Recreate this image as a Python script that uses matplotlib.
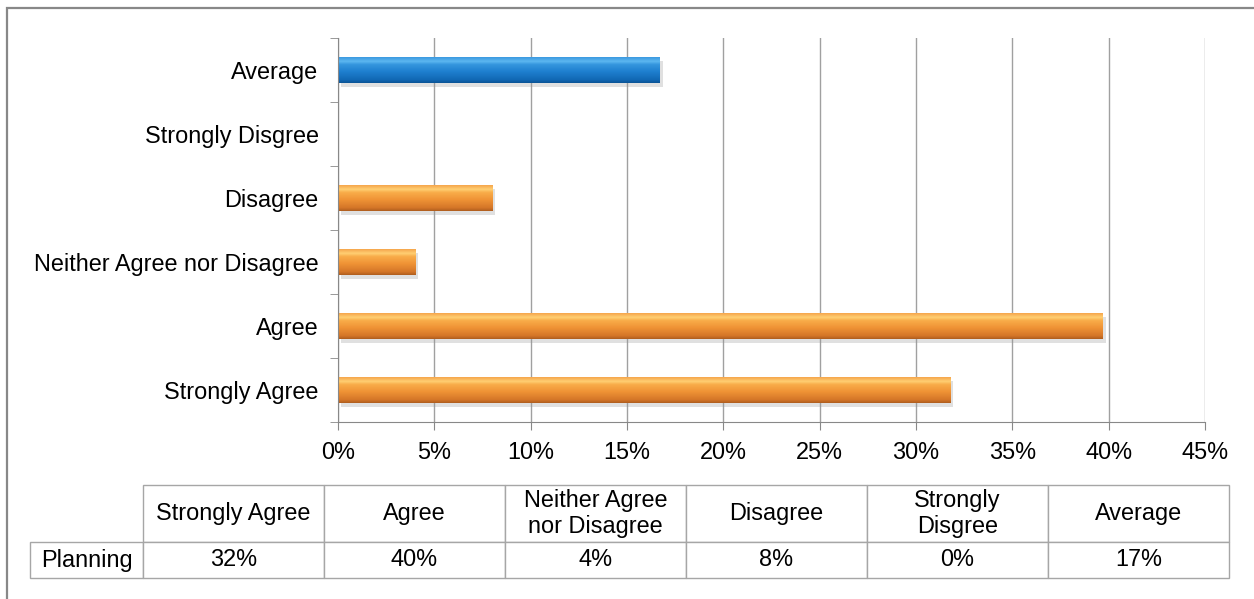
import matplotlib
matplotlib.use('Agg')
import matplotlib.pyplot as plt
import numpy as np
from matplotlib.colors import LinearSegmentedColormap
from matplotlib.patches import Rectangle
from matplotlib.table import Table
from matplotlib.ticker import PercentFormatter, FixedLocator
import matplotlib.patheffects as pe

plt.rcParams['font.family'] = ['Liberation Sans', 'DejaVu Sans']

# Dane (od dołu do góry)
categories = ['Strongly Agree', 'Agree', 'Neither Agree nor Disagree',
              'Disagree', 'Strongly Disgree', 'Average']
values = [31.8, 39.7, 4.0, 8.0, 0.0, 16.7]
table_headers = ['Strongly Agree', 'Agree', 'Neither Agree\nnor Disagree',
                 'Disagree', 'Strongly\nDisgree', 'Average']
row_label = 'Planning'

FS = 16.9
orange_cmap = LinearSegmentedColormap.from_list(
    'orange', [(0.0, '#b05e1e'), (0.12, '#d57628'), (0.45, '#f09436'),
               (0.72, '#f9ad4a'), (0.84, '#ffcf72'), (1.0, '#f6a64d')])
blue_cmap = LinearSegmentedColormap.from_list(
    'blue', [(0.0, '#0b5496'), (0.12, '#1168b4'), (0.45, '#1f80d0'),
             (0.72, '#3596de'), (0.84, '#5cb6f0'), (1.0, '#3c9ae0')])

fig = plt.figure(figsize=(12.54, 5.99), dpi=100)
ax = fig.add_axes([338 / 1254, 1 - 422 / 599, 867 / 1254, 384 / 599])

y = np.arange(len(categories))
bars = ax.barh(y, values, height=0.4, color='#f09436', zorder=1.5,
               path_effects=[pe.SimplePatchShadow(offset=(2, -3), shadow_rgbFace='#999999', alpha=0.3),
                             pe.Normal()])

# Gradient w słupkach
grad = np.linspace(0, 1, 64).reshape(-1, 1)
for cat, bar in zip(categories, bars):
    if bar.get_width() <= 0:
        continue
    cmap = blue_cmap if cat == 'Average' else orange_cmap
    x0, y0 = bar.get_x(), bar.get_y()
    im = ax.imshow(grad, extent=[x0, x0 + bar.get_width(), y0, y0 + bar.get_height()],
                   origin='lower', aspect='auto', cmap=cmap, zorder=2)
    im.set_clip_path(bar)

ax.set_xlim(0, 45)
ax.set_ylim(-0.5, len(categories) - 0.5)
ax.set_xticks(np.arange(0, 46, 5))
ax.xaxis.set_major_formatter(PercentFormatter(xmax=100, decimals=0))
ax.set_yticks(y)
ax.set_yticklabels(categories)
ax.yaxis.set_minor_locator(FixedLocator(np.arange(-0.5, len(categories), 1)))
ax.tick_params(axis='y', which='major', length=0, pad=14, labelsize=FS)
ax.tick_params(axis='y', which='minor', length=6, color='#888888', direction='out')
ax.tick_params(axis='x', length=6, color='#888888', labelsize=FS, pad=8)

ax.set_axisbelow(True)
ax.grid(axis='x', color='#a0a0a0', linewidth=1)
for s in ['top', 'right']:
    ax.spines[s].set_visible(False)
for s in ['left', 'bottom']:
    ax.spines[s].set_color('#888888')

# Tabela danych
label_w, col_w = 113, 181
head_h, row_h = 57, 36
tb = Table(ax, bbox=[(30 - 338) / 867, (422 - 578) / 384,
                     (1229 - 30) / 867, (578 - 485) / 384])
for j, (hdr, v) in enumerate(zip(table_headers, values)):
    c = tb.add_cell(0, j + 1, width=col_w, height=head_h, text=hdr, loc='center')
    c.set_edgecolor('#a6a6a6')
    c = tb.add_cell(1, j + 1, width=col_w, height=row_h, text=f'{round(v)}%', loc='center')
    c.set_edgecolor('#a6a6a6')
c = tb.add_cell(1, 0, width=label_w, height=row_h, text=row_label, loc='center')
c.set_edgecolor('#a6a6a6')
tb.auto_set_font_size(False)
tb.set_fontsize(FS)
ax.add_table(tb)

# Ramka wykresu
fig.patches.append(Rectangle((7 / 1254, -0.1), 1.2, 1.1 - 8 / 599, transform=fig.transFigure,
                             fill=False, edgecolor='#888888', linewidth=1.6))

fig.savefig('out.png', dpi=100)
